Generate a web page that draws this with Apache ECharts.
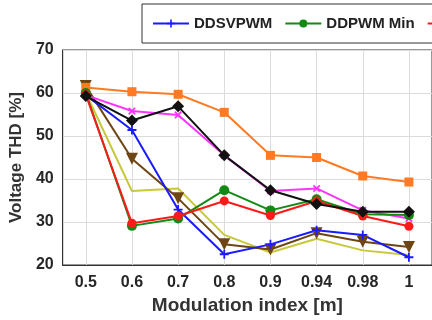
<!DOCTYPE html>
<html>
<head>
<meta charset="utf-8">
<script src="https://cdn.jsdelivr.net/npm/echarts@6/dist/echarts.min.js"></script>
<style>
  html, body { margin: 0; padding: 0; background: #fff; }
  #chart { width: 432px; height: 320px; }
</style>
</head>
<body>
<div id="chart"></div>
<script>
// modulation index categories
const categories = ['0.5', '0.6', '0.7', '0.8', '0.9', '0.94', '0.98', '1']
// voltage THD [%] per method
const ddsvpwm = [59.5, 51.4, 32.9, 22.5, 24.8, 28.1, 27.0, 21.8]
const ddpwmMin = [60.0, 29.1, 30.8, 37.4, 32.7, 35.3, 31.8, 31.6]
const ddpwmMax = [59.6, 29.7, 31.4, 34.9, 31.5, 34.9, 31.4, 29.0]
const orangeVals = [61.3, 60.3, 59.7, 55.5, 45.5, 45.0, 40.7, 39.3]
const magentaVals = [59.5, 55.8, 54.9, 45.5, 37.2, 37.8, 32.7, 30.8]
const blackVals = [59.3, 53.6, 56.9, 45.5, 37.4, 34.2, 32.4, 32.4]
const yellowVals = [60.0, 37.2, 37.8, 27.0, 22.9, 26.1, 23.4, 22.3]
const brownVals = [61.6, 44.7, 35.5, 24.8, 23.6, 27.4, 25.4, 24.2]

const plusPath = 'path://M4,0h2v4h4v2h-4v4h-2v-4h-4v-2h4z'
const font = 'Liberation Sans, Arial, sans-serif'

function line (name, data, color, symbol, size, extra) {
  return Object.assign({
    name: name,
    type: 'line',
    data: data,
    symbol: symbol,
    symbolSize: size,
    showSymbol: symbol !== 'none',
    lineStyle: { color: color, width: 2 },
    itemStyle: { color: color },
    emphasis: { disabled: true },
    animation: false
  }, extra || {})
}

let myChart = echarts.init(document.getElementById('chart'))
let option = {
  backgroundColor: '#fff',
  textStyle: { fontFamily: font },
  grid: {
    left: 61,
    top: 50,
    width: 374,
    height: 221,
    show: true,
    borderColor: '#333',
    borderWidth: 1
  },
  legend: {
    data: ['DDSVPWM', 'DDPWM Min', 'DDPWM Max'],
    left: 142,
    top: 4,
    width: 600,
    padding: [12, 10],
    itemWidth: 36,
    itemHeight: 10,
    itemGap: 12,
    borderColor: '#333',
    borderWidth: 1,
    backgroundColor: '#fff',
    textStyle: { fontFamily: font, fontWeight: 'bold', fontSize: 15, color: '#222' }
  },
  xAxis: {
    type: 'category',
    data: categories,
    boundaryGap: true,
    name: 'Modulation index [m]',
    nameLocation: 'middle',
    nameGap: 31,
    nameTextStyle: { fontFamily: font, fontWeight: 'bold', fontSize: 19, color: '#333' },
    axisLine: { lineStyle: { color: '#333' } },
    axisTick: { show: false },
    axisLabel: { fontFamily: font, fontWeight: 'bold', fontSize: 16, color: '#262626', margin: 10 },
    splitLine: { show: true, alignWithLabel: true, lineStyle: { color: '#dcdcdc' } }
  },
  yAxis: {
    type: 'value',
    min: 20,
    max: 70,
    interval: 10,
    name: 'Voltage THD [%]',
    nameLocation: 'middle',
    nameGap: 37,
    nameTextStyle: { fontFamily: font, fontWeight: 'bold', fontSize: 17, color: '#333' },
    axisLine: { show: true, lineStyle: { color: '#333' } },
    axisTick: { show: false },
    axisLabel: { fontFamily: font, fontWeight: 'bold', fontSize: 16, color: '#262626', margin: 9 },
    splitLine: { show: true, lineStyle: { color: '#dcdcdc' } }
  },
  series: [
    line('Yellow', yellowVals, '#c9c83a', 'none', 0),
    line('Brown', brownVals, '#6e4514', 'triangle', 12, { symbolRotate: 180 }),
    line('Orange', orangeVals, '#ff7a22', 'rect', 9),
    line('Magenta', magentaVals, '#ff33ff', plusPath, 9, { symbolRotate: 45 }),
    line('DDSVPWM', ddsvpwm, '#1a1aff', plusPath, 9),
    line('DDPWM Min', ddpwmMin, '#138a13', 'circle', 10),
    line('DDPWM Max', ddpwmMax, '#ff1a1a', 'circle', 9),
    line('Black', blackVals, '#111', 'diamond', 12)
  ]
}
myChart.setOption(option, true)
</script>
</body>
</html>
